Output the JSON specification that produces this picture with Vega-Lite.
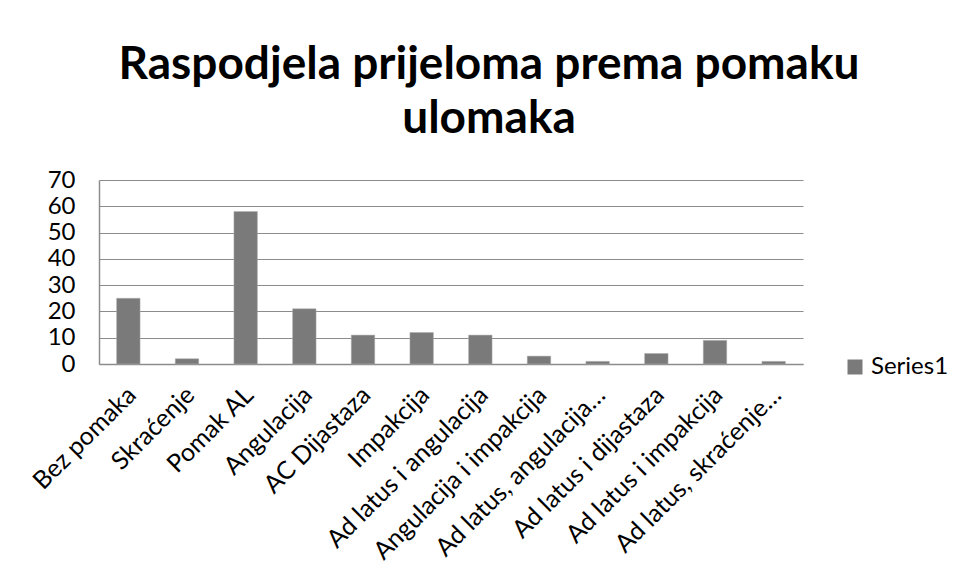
{
  "$schema": "https://vega.github.io/schema/vega-lite/v6.json",
  "autosize": "none",
  "width": 704,
  "height": 184,
  "padding": {"left": 99, "top": 180, "right": 156, "bottom": 221},
  "background": "white",
  "config": {"font": "Lato", "view": {"stroke": null}},
  "title": {
    "text": ["Raspodjela prijeloma prema pomaku", "ulomaka"],
    "fontSize": 46,
    "font": "Lato",
    "fontWeight": "bold",
    "color": "#000000",
    "lineHeight": 54,
    "anchor": "middle",
    "frame": "group",
    "dx": 38,
    "offset": 25
  },
  "data": {
    "values": [
      {"category": "Bez pomaka", "value": 25, "series": "Series1"},
      {"category": "Skraćenje", "value": 2, "series": "Series1"},
      {"category": "Pomak AL", "value": 58, "series": "Series1"},
      {"category": "Angulacija", "value": 21, "series": "Series1"},
      {"category": "AC Dijastaza", "value": 11, "series": "Series1"},
      {"category": "Impakcija", "value": 12, "series": "Series1"},
      {"category": "Ad latus i angulacija", "value": 11, "series": "Series1"},
      {"category": "Angulacija i impakcija", "value": 3, "series": "Series1"},
      {"category": "Ad latus, angulacija…", "value": 1, "series": "Series1"},
      {"category": "Ad latus i dijastaza", "value": 4, "series": "Series1"},
      {"category": "Ad latus i impakcija", "value": 9, "series": "Series1"},
      {"category": "Ad latus, skraćenje…", "value": 1, "series": "Series1"}
    ]
  },
  "mark": {"type": "bar", "stroke": "#b0b0b0", "strokeWidth": 0.5},
  "encoding": {
    "x": {
      "field": "category",
      "type": "nominal",
      "sort": null,
      "scale": {"paddingInner": 0.6, "paddingOuter": 0.3},
      "axis": {
        "title": null,
        "labelAngle": -45,
        "labelFontSize": 25,
        "labelColor": "#000000",
        "labelFont": "Lato",
        "labelPadding": 18,
        "labelOffset": -5,
        "labelLimit": 400,
        "ticks": false,
        "domainColor": "#8c8c8c",
        "domainWidth": 1.5
      }
    },
    "y": {
      "field": "value",
      "type": "quantitative",
      "scale": {"domain": [0, 70]},
      "axis": {
        "title": null,
        "values": [0, 10, 20, 30, 40, 50, 60, 70],
        "labelFontSize": 24,
        "labelColor": "#000000",
        "labelFont": "Lato",
        "labelPadding": 24,
        "ticks": false,
        "domainColor": "#8c8c8c",
        "domainWidth": 1.5,
        "gridColor": "#8c8c8c",
        "gridWidth": 1.2
      }
    },
    "color": {
      "field": "series",
      "type": "nominal",
      "scale": {"range": ["#7a7a7a"]},
      "legend": {
        "title": null,
        "orient": "none",
        "legendX": 744,
        "legendY": 175,
        "symbolType": "square",
        "symbolSize": 225,
        "symbolStrokeWidth": 0,
        "labelFontSize": 24,
        "labelFont": "Lato",
        "labelColor": "#000000",
        "labelOffset": 4
      }
    }
  }
}
